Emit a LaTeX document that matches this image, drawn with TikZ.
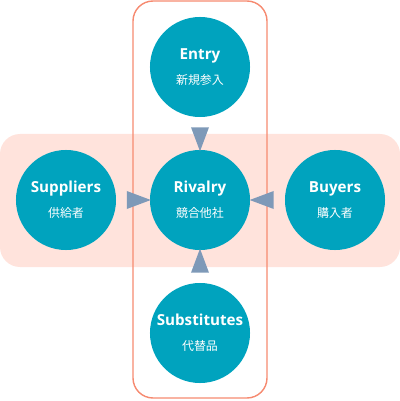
\documentclass[tikz,border=0pt]{standalone}
\usepackage{fontspec}
\setmainfont{Open Sans}
\newfontfamily\jpfont{Noto Sans CJK JP}
\usetikzlibrary{shapes.geometric}
\definecolor{forceteal}{RGB}{0,163,190}
\definecolor{bandpink}{RGB}{255,227,220}
\definecolor{frameorange}{RGB}{246,138,112}
\definecolor{headslate}{RGB}{126,153,184}
\begin{document}
\begin{tikzpicture}[x=0.025cm,y=0.025cm,line join=round,
    forcedisc/.style={circle,fill=forceteal,minimum size=2.5cm,inner sep=0pt,
      text=white,align=center,font=\bfseries\fontsize{10.8}{13}\selectfont},
    arrowhead/.style={isosceles triangle,isosceles triangle stretches,fill=headslate,
      minimum width=0.45cm,minimum height=0.6cm,inner sep=0pt}]
  \useasboundingbox (-200,-201) rectangle (200,200);
  \fill[bandpink,rounded corners=0.5cm] (-200,-67) rectangle (200,66);
  \draw[frameorange,line width=1pt,rounded corners=0.5cm] (-67,-198) rectangle (67,199);
  \node[forcedisc] (rivalry) at (0,0) {Rivalry\\[5pt]{\jpfont\mdseries\fontsize{8.5}{10}\selectfont 競合他社}};
  \node[forcedisc] (entry) at (0,133) {Entry\\[5pt]{\jpfont\mdseries\fontsize{8.5}{10}\selectfont 新規参入}};
  \node[forcedisc] (substitutes) at (0,-133) {Substitutes\\[5pt]{\jpfont\mdseries\fontsize{8.5}{10}\selectfont 代替品}};
  \node[forcedisc] (suppliers) at (-134,0) {Suppliers\\[5pt]{\jpfont\mdseries\fontsize{8.5}{10}\selectfont 供給者}};
  \node[forcedisc] (buyers) at (135,0) {Buyers\\[5pt]{\jpfont\mdseries\fontsize{8.5}{10}\selectfont 購入者}};
  \path (entry) -- (rivalry) node[arrowhead,midway,rotate=-90] {};
  \path (substitutes) -- (rivalry) node[arrowhead,midway,rotate=90] {};
  \path (suppliers) -- (rivalry) node[arrowhead,midway] {};
  \path (buyers) -- (rivalry) node[arrowhead,midway,rotate=180] {};
\end{tikzpicture}
\end{document}
